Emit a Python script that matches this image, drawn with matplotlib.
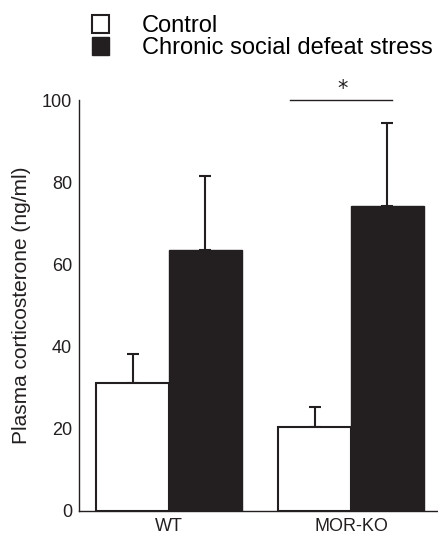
import matplotlib

matplotlib.use("Agg")

import matplotlib.pyplot as plt
import numpy as np

plt.rcParams["font.family"] = ["Liberation Sans", "DejaVu Sans"]

groups = ["WT", "MOR-KO"]
series = ["Control", "Chronic social defeat stress"]
control_mean = [31.2, 20.5]
control_err = [7.1, 4.9]
stress_mean = [63.4, 74.1]
stress_err = [18.1, 20.3]

ink = "#231f20"

fig = plt.figure(figsize=(4.38, 5.34), dpi=100)
ax = fig.add_axes([0.1804, 0.0431, 0.8176, 0.7696])

x = np.arange(len(groups))
w = 0.4

b1 = ax.bar(x - w / 2, control_mean, w, color="white", edgecolor=ink, linewidth=1.5,
            label=series[0], zorder=2)
b2 = ax.bar(x + w / 2, stress_mean, w, color=ink, edgecolor=ink, linewidth=1.0,
            label=series[1], zorder=2)

ax.errorbar(x - w / 2, control_mean, yerr=[np.zeros(2), control_err], fmt="none",
            ecolor=ink, elinewidth=1.5, capsize=4.5, capthick=1.5, zorder=1)
ax.errorbar(x + w / 2, stress_mean, yerr=[np.zeros(2), stress_err], fmt="none",
            ecolor=ink, elinewidth=1.5, capsize=4.5, capthick=1.5, zorder=1)

# significance bar over MOR-KO
ax.plot([0.665, 1.225], [100, 100], color=ink, linewidth=1.0, clip_on=False)
ax.text(0.956, 102.8, "*", ha="center", va="center", fontsize=15, color=ink,
        family="DejaVu Sans")

ax.set_xlim(-0.495, 1.473)
ax.set_ylim(0, 100)
ax.set_yticks([0, 20, 40, 60, 80, 100])
ax.set_xticks(x)
ax.set_xticklabels(groups, fontsize=13)
ax.tick_params(axis="y", length=0, pad=5, labelsize=13, colors=ink)
ax.tick_params(axis="x", length=0, pad=5, colors=ink)

for s in ["top", "right"]:
    ax.spines[s].set_visible(False)
for s in ["left", "bottom"]:
    ax.spines[s].set_linewidth(1.0)
    ax.spines[s].set_color(ink)

ax.set_ylabel("Plasma corticosterone (ng/ml)", fontsize=15, color=ink, labelpad=8)

ax.legend(handles=[b1, b2], loc="upper left", bbox_to_anchor=(0.21, 0.972),
          bbox_transform=fig.transFigure, frameon=False, fontsize=17,
          handlelength=0.7, handleheight=0.8, handletextpad=1.4,
          labelspacing=0.0, borderaxespad=0, borderpad=0)

plt.savefig("out.png", dpi=100)
plt.close()
